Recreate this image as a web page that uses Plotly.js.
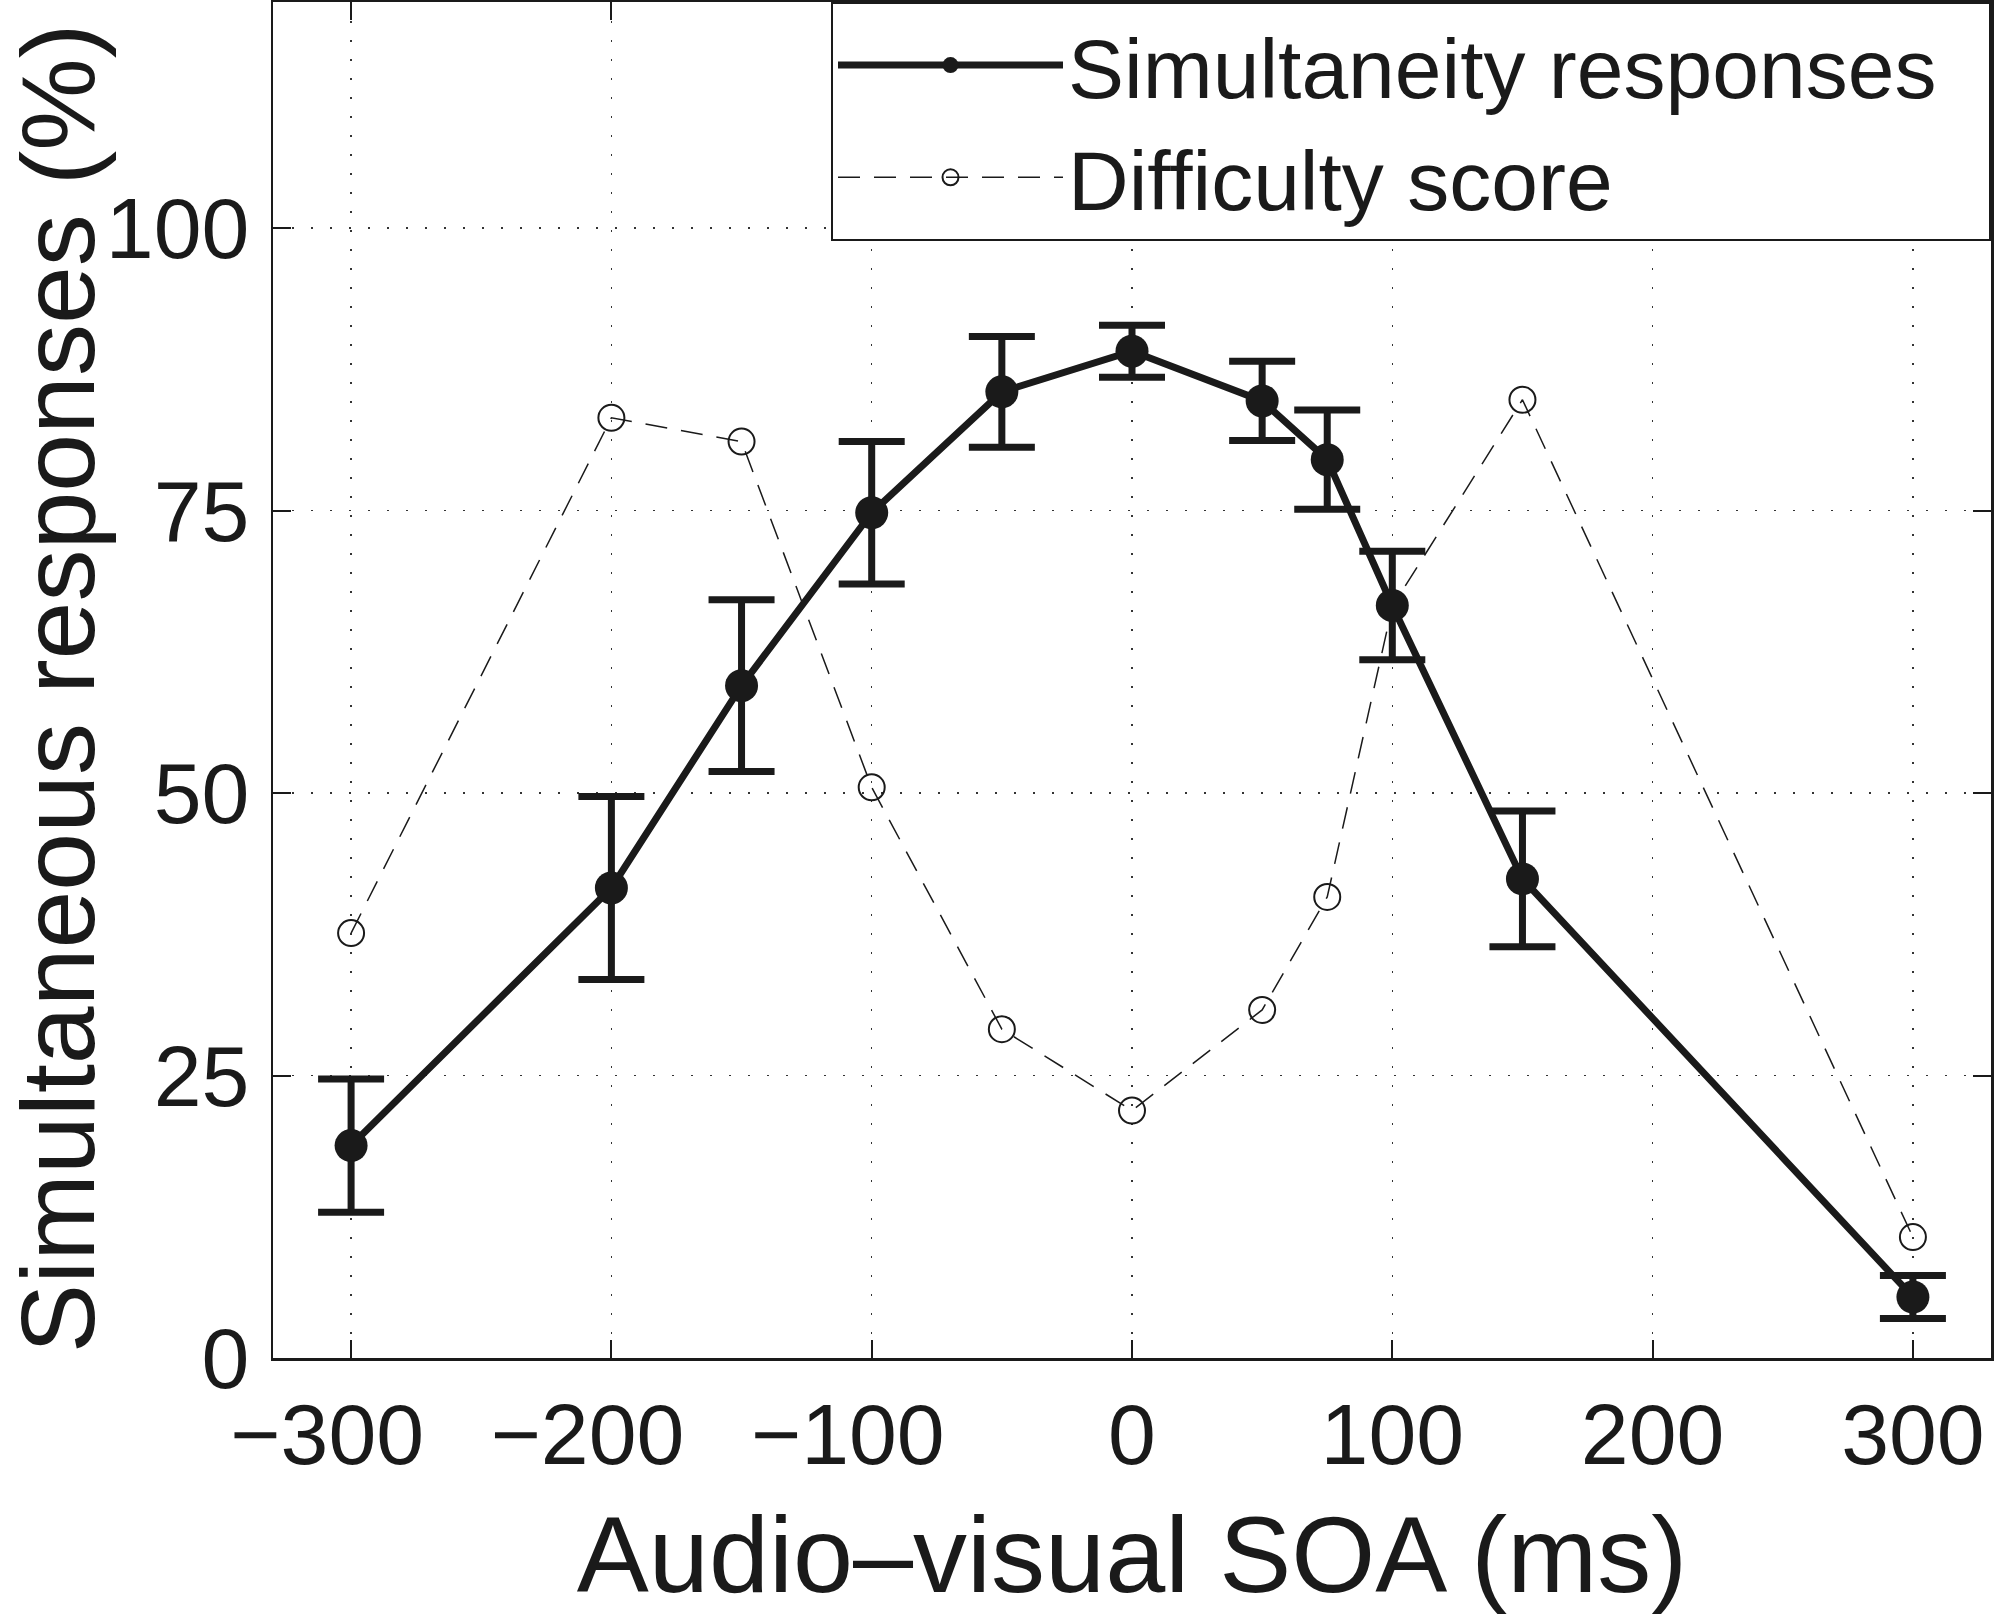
<!DOCTYPE html>
<html>
<head>
<meta charset="utf-8">
<script src="https://cdn.plot.ly/plotly-3.0.1.min.js"></script>
<style>
  html, body { margin: 0; padding: 0; background: #fff; }
  #chart { width: 1995px; height: 1615px; }
</style>
</head>
<body>
<div id="chart"></div>
<script>
// Data
const soa = [-300, -200, -150, -100, -50, 0, 50, 75, 100, 150, 300];
const simultaneity = [18.8, 41.6, 59.5, 74.8, 85.5, 89.1, 84.7, 79.5, 66.6, 42.4, 5.4];
const simultaneityErr = [5.9, 8.1, 7.6, 6.3, 4.9, 2.3, 3.5, 4.4, 4.8, 6.0, 1.9];
const difficulty = [37.6, 83.2, 81.1, 50.5, 29.1, 21.9, 30.8, 40.8, 66.5, 84.8, 10.7];
const xTicks = [-300, -200, -100, 0, 100, 200, 300];
// MATLAB centres the digits, not the minus sign: pad negatives on the right
const xTickText = ['\u2212300\u00a0\u00a0', '\u2212200\u00a0\u00a0', '\u2212100\u00a0\u00a0', '0', '100', '200', '300'];
const yTicks = [0, 25, 50, 75, 100];
const yTickText = ['0', '25', '50', '75', '100'];
const xTitle = 'Audio\u2013visual SOA (ms)';
const yTitle = 'Simultaneous responses (%)';

const FONT = 'Liberation Sans, Arial, Helvetica, sans-serif';
const INK = '#1a1a1a';

const traces = [
  {
    x: soa, y: difficulty,
    name: 'Difficulty score\u00a0\u00a0',
    type: 'scatter', mode: 'lines+markers',
    line: { color: INK, width: 1.5, dash: '22px,14px' },
    marker: { symbol: 'circle-open', size: 26, color: INK, line: { width: 2, color: INK } },
    legendrank: 2
  },
  {
    x: soa, y: simultaneity,
    name: 'Simultaneity responses\u00a0\u00a0',
    type: 'scatter', mode: 'lines+markers',
    line: { color: INK, width: 7 },
    marker: { symbol: 'circle', size: 33, color: INK },
    error_y: { type: 'data', array: simultaneityErr, visible: true, color: INK, thickness: 7, width: 33 },
    legendrank: 1
  }
];

const layout = {
  width: 1995, height: 1615,
  paper_bgcolor: '#ffffff', plot_bgcolor: '#ffffff',
  margin: { l: 273, r: 4, t: 2, b: 257, pad: 0 },
  font: { family: FONT, size: 86, color: INK },
  showlegend: true,
  legend: {
    x: 1, y: 1, xanchor: 'right', yanchor: 'top',
    bgcolor: '#ffffff', bordercolor: INK, borderwidth: 2,
    font: { family: FONT, size: 84, color: INK },
    itemwidth: 225, tracegroupgap: 0
  },
  xaxis: {
    range: [-330, 330],
    tickmode: 'array', tickvals: xTicks, ticktext: xTickText,
    ticks: 'inside', ticklen: 18, tickwidth: 2, tickcolor: INK,
    showline: true, linecolor: INK, linewidth: 2.5, mirror: 'ticks',
    showgrid: true, gridcolor: '#333333', gridwidth: 1.5, griddash: '2px,17px',
    zeroline: false,
    tickfont: { family: FONT, size: 86, color: INK },
    title: { text: xTitle, font: { family: FONT, size: 108, color: INK }, standoff: 45 },
    automargin: false
  },
  yaxis: {
    range: [0, 120],
    tickmode: 'array', tickvals: yTicks, ticktext: yTickText,
    ticks: 'inside', ticklen: 18, tickwidth: 2, tickcolor: INK,
    showline: true, linecolor: INK, linewidth: 2.5, mirror: 'ticks',
    showgrid: true, gridcolor: '#333333', gridwidth: 1.5, griddash: '2px,17px',
    zeroline: false,
    ticklabelstandoff: 4,
    tickfont: { family: FONT, size: 86, color: INK },
    automargin: false
  },
  annotations: [
    {
      text: yTitle, textangle: -90,
      xref: 'paper', yref: 'paper', x: 0, y: 0.494,
      xanchor: 'center', yanchor: 'middle',
      xshift: -215, showarrow: false, borderpad: 0,
      font: { family: FONT, size: 104, color: INK }
    }
  ]
};

Plotly.newPlot('chart', traces, layout, { staticPlot: true, displayModeBar: false });
</script>
</body>
</html>
